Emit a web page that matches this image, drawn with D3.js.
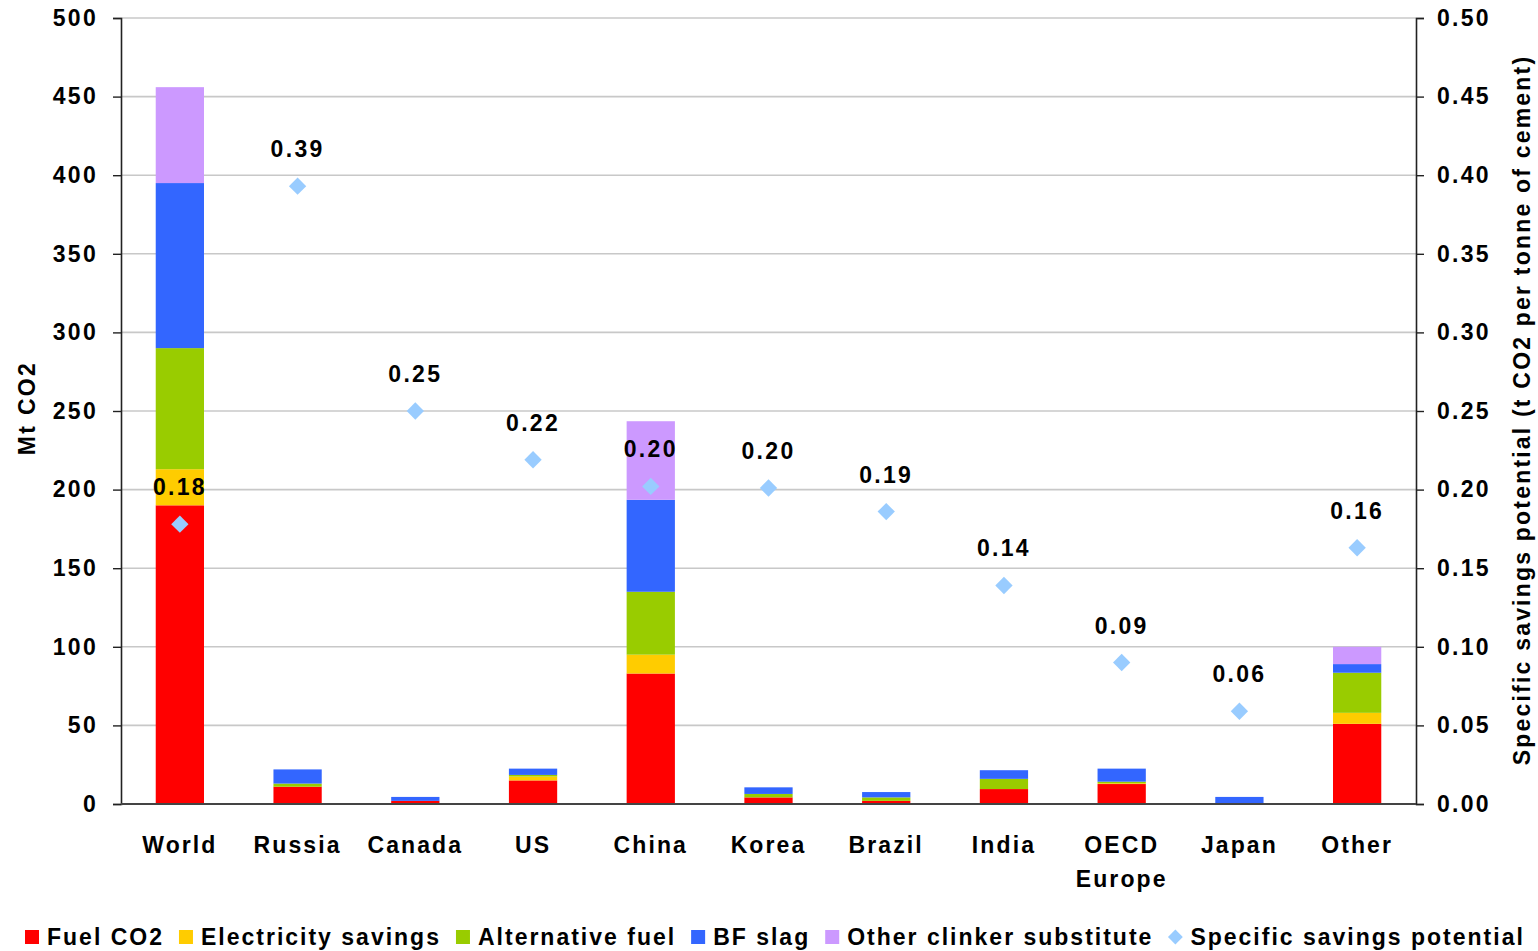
<!DOCTYPE html>
<html>
<head>
<meta charset="utf-8">
<script src="https://cdn.jsdelivr.net/npm/d3@7"></script>
<style>
  html, body { margin: 0; padding: 0; background: #fff; }
  svg { display: block; }
  text { font-family: "Liberation Sans", Arial, sans-serif; font-weight: bold; fill: #000; }
</style>
</head>
<body>
<svg id="chart" width="1538" height="951"></svg>
<script>
// Regions shown along the x axis ("\n" splits a label over two lines)
const regions = ["World", "Russia", "Canada", "US", "China", "Korea", "Brazil", "India", "OECD\nEurope", "Japan", "Other"];

// Savings potential by measure, Mt CO2
const fuelCO2      = [190, 11, 2, 15, 83, 4.2, 2, 9.5, 12.7, 0, 51];
const electricity  = [23, 0, 0, 2.5, 12, 0, 0, 0, 0.5, 0, 7];
const altFuel      = [77, 2, 0, 1, 40, 2.2, 2.2, 6.5, 1, 0, 25.5];
const bfSlag       = [105, 9, 2.5, 4, 58.5, 4.2, 3.4, 5.5, 8.3, 4.5, 5.5];
const otherClinker = [61, 0, 0, 0, 50, 0, 0, 0, 0, 0, 11];

// Specific savings potential, t CO2 per tonne of cement
const specific = [0.178, 0.393, 0.25, 0.219, 0.202, 0.201, 0.186, 0.139, 0.09, 0.059, 0.163];

const leftTicks = [0, 50, 100, 150, 200, 250, 300, 350, 400, 450, 500];
const rightTicks = [0, 0.05, 0.10, 0.15, 0.20, 0.25, 0.30, 0.35, 0.40, 0.45, 0.50];

const seriesNames = ["Fuel CO2", "Electricity savings", "Alternative fuel", "BF slag", "Other clinker substitute"];
const seriesColors = ["#ff0000", "#ffcc00", "#99cc00", "#3366ff", "#cc99ff"];
const diamondName = "Specific savings potential";
const diamondColor = "#99ccff";

const seriesValues = [fuelCO2, electricity, altFuel, bfSlag, otherClinker];
const rows = regions.map((r, i) => {
  const row = { region: r };
  seriesNames.forEach((s, k) => row[s] = seriesValues[k][i]);
  return row;
});

const svg = d3.select("#chart");
const m = { left: 121, right: 1416, top: 18, bottom: 804 };
const fontSize = 23;
const spacing = 2.3;

const x = d3.scaleBand().domain(regions).range([m.left, m.right]).paddingInner(0.59).paddingOuter(0.295);
const y = d3.scaleLinear().domain([0, 500]).range([m.bottom, m.top]);
const y2 = d3.scaleLinear().domain([0, 0.5]).range([m.bottom, m.top]);

// Horizontal gridlines
svg.append("g").selectAll("line").data(leftTicks.filter(t => t > 0)).join("line")
  .attr("x1", m.left).attr("x2", m.right)
  .attr("y1", d => y(d)).attr("y2", d => y(d))
  .attr("stroke", "#c8c8c8").attr("stroke-width", 1.6);

// Stacked bars
const stack = d3.stack().keys(seriesNames)(rows);
svg.append("g").selectAll("g").data(stack).join("g")
  .attr("fill", (d, i) => seriesColors[i])
  .selectAll("rect").data(d => d).join("rect")
  .attr("x", d => x(d.data.region))
  .attr("width", x.bandwidth())
  .attr("y", d => y(d[1]))
  .attr("height", d => Math.max(0, y(d[0]) - y(d[1])));

// Axes
const leftAxis = svg.append("g").attr("transform", `translate(${m.left},0)`)
  .call(d3.axisLeft(y).tickValues(leftTicks).tickSize(8).tickPadding(15).tickFormat(d3.format("d")));
const rightAxis = svg.append("g").attr("transform", `translate(${m.right},0)`)
  .call(d3.axisRight(y2).tickValues(rightTicks).tickSize(8).tickPadding(13).tickFormat(d3.format(".2f")));
[leftAxis, rightAxis].forEach(a => {
  a.select(".domain").attr("stroke", "#222").attr("stroke-width", 1.6);
  a.selectAll(".tick line").attr("stroke", "#222").attr("stroke-width", 1.4);
  a.selectAll("text").attr("font-size", fontSize).attr("letter-spacing", spacing)
    .attr("font-family", "Liberation Sans, Arial, sans-serif").attr("font-weight", "bold").attr("fill", "#000");
});

// Baseline
svg.append("line").attr("x1", m.left).attr("x2", m.right)
  .attr("y1", y(0)).attr("y2", y(0)).attr("stroke", "#444").attr("stroke-width", 2.2);

// Category labels
const cat = svg.append("g").selectAll("text").data(regions).join("text")
  .attr("x", d => x(d) + x.bandwidth() / 2)
  .attr("y", 853)
  .attr("text-anchor", "middle")
  .attr("font-size", fontSize).attr("letter-spacing", 2.1);
cat.selectAll("tspan").data(d => d.split("\n")).join("tspan")
  .attr("x", function() { return this.parentNode.getAttribute("x"); })
  .attr("dy", (d, i) => i === 0 ? 0 : 34)
  .text(d => d);

// Specific savings diamonds and value labels
const pts = svg.append("g");
pts.selectAll("path").data(specific).join("path")
  .attr("d", d3.symbol().type(d3.symbolSquare).size(150))
  .attr("transform", (d, i) => `translate(${x(regions[i]) + x.bandwidth() / 2},${y2(d)}) rotate(45)`)
  .attr("fill", diamondColor);
pts.selectAll("text").data(specific).join("text")
  .attr("x", (d, i) => x(regions[i]) + x.bandwidth() / 2)
  .attr("y", d => y2(d) - 29)
  .attr("text-anchor", "middle")
  .attr("font-size", fontSize).attr("letter-spacing", spacing)
  .text(d => d3.format(".2f")(d));

// Axis titles
svg.append("text")
  .attr("transform", `translate(35,408) rotate(-90)`)
  .attr("text-anchor", "middle")
  .attr("font-size", fontSize).attr("letter-spacing", spacing)
  .text("Mt CO2");
svg.append("text")
  .attr("transform", `translate(1530,410) rotate(-90)`)
  .attr("text-anchor", "middle")
  .attr("font-size", fontSize).attr("letter-spacing", 2.2)
  .text("Specific savings potential (t CO2 per tonne of cement)");

// Legend
const legendItems = seriesNames.map((n, i) => ({ name: n, color: seriesColors[i], type: "square" }))
  .concat([{ name: diamondName, color: diamondColor, type: "diamond" }]);
const legend = svg.append("g");
let lx = 25;
const ly = 937;
legendItems.forEach(item => {
  if (item.type === "square") {
    legend.append("rect").attr("x", lx).attr("y", ly - 7).attr("width", 14).attr("height", 14).attr("fill", item.color);
  } else {
    legend.append("path").attr("d", d3.symbol().type(d3.symbolSquare).size(110))
      .attr("transform", `translate(${lx + 7},${ly}) rotate(45)`).attr("fill", item.color);
  }
  const t = legend.append("text").attr("x", lx + 22).attr("y", ly + 8)
    .attr("font-size", fontSize).attr("letter-spacing", 2.0).text(item.name);
  lx += 22 + t.node().getComputedTextLength() + 15;
});
</script>
</body>
</html>
